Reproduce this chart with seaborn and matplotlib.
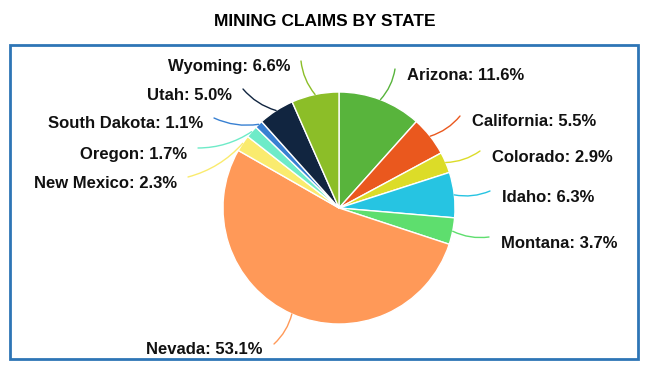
import numpy as np
import matplotlib
matplotlib.use("Agg")
import matplotlib.pyplot as plt
from matplotlib.patches import Rectangle
import seaborn as sns

# Data
states = ["Arizona", "California", "Colorado", "Idaho", "Montana", "Nevada",
          "New Mexico", "Oregon", "South Dakota", "Utah", "Wyoming"]
shares = [11.6, 5.5, 2.9, 6.3, 3.7, 53.1, 2.3, 1.7, 1.1, 5.0, 6.6]
colors = ["#58B43C", "#EA581E", "#DCDC28", "#26C4E2", "#5EDE6E", "#FF9958",
          "#FAEB6E", "#6EEBC8", "#3880D2", "#112540", "#8CBE28"]

# Label placement (figure pixels from top-left) and alignment
label_pos = [(407, 75), (472, 122), (492, 157), (502, 197), (501, 243), (263, 350),
             (177, 183), (187, 154), (203, 124), (232, 95), (290, 67)]
label_ha = ["left"] * 5 + ["right"] * 6

sns.set_theme(style="white")
plt.rcParams['font.family'] = ['Liberation Sans', 'DejaVu Sans']

W, H = 650, 373
fig = plt.figure(figsize=(W / 100, H / 100), dpi=100)

# pie axes: center (339, 208) px, radius 116 px
cx, cy, r = 339, 208, 116
ax = fig.add_axes([(cx - r) / W, (H - cy - r) / H, 2 * r / W, 2 * r / H])
wedges, _ = ax.pie(shares, colors=colors, startangle=90, counterclock=False,
                   wedgeprops=dict(edgecolor="white", linewidth=1.0))
ax.set_xlim(-1, 1)
ax.set_ylim(-1, 1)
ax.set_aspect("equal")
ax.axis("off")

for w, name, val, (tx, ty), ha in zip(wedges, states, shares, label_pos, label_ha):
    fig.text(tx / W, 1 - ty / H, f"{name}: {val:.1f}%", ha=ha, va="center",
             fontsize=12, fontweight="bold", color="#111111")
    # leader line from wedge edge to just beside the label
    mid = np.deg2rad((w.theta1 + w.theta2) / 2)
    lx = tx - 12 if ha == "left" else tx + 11
    rad = -0.15 if ha == "left" else 0.15
    ax.annotate("", xy=(np.cos(mid), np.sin(mid)), xycoords="data",
                xytext=(lx, H - ty + 6), textcoords="figure pixels",
                annotation_clip=False,
                arrowprops=dict(arrowstyle="-", color=w.get_facecolor(), lw=1.0,
                                shrinkA=0, shrinkB=0,
                                connectionstyle=f"arc3,rad={rad}"))

# title and frame
fig.text(325 / W, 1 - 21 / H, "MINING CLAIMS BY STATE", ha="center", va="center",
         fontsize=12.5, fontweight="bold", color="black")

fig.patches.append(Rectangle((10 / W, 1 - 359 / H), 628 / W, 314 / H,
                             transform=fig.transFigure, fill=False,
                             edgecolor="#2E75B6", linewidth=2))

fig.savefig("out.png", dpi=100)
